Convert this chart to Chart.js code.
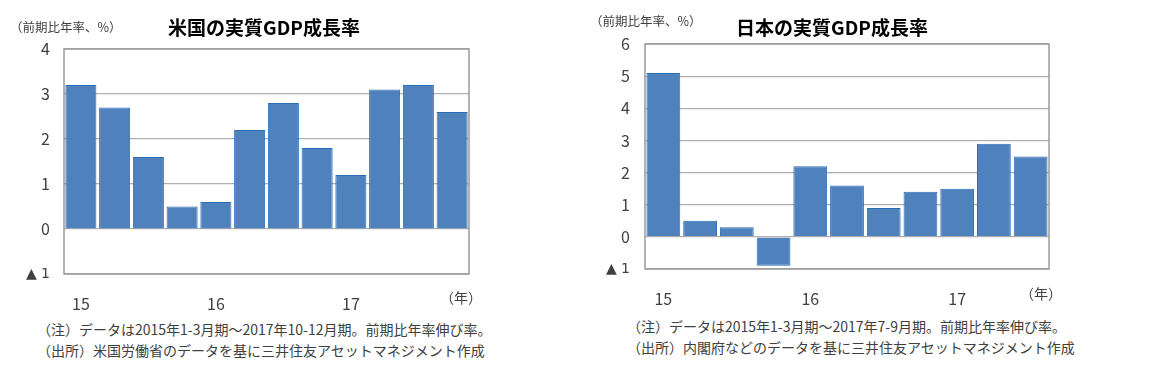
<!DOCTYPE html>
<html>
<head>
<meta charset="utf-8">
<script src="https://cdn.jsdelivr.net/npm/chart.js@4/dist/chart.umd.min.js"></script>
<style>
  body { margin: 0; background: #fff; font-family: "Noto Sans CJK JP", sans-serif; }
  #wrap { position: relative; width: 1161px; height: 372px; overflow: hidden; }
  canvas { position: absolute; top: 0; }
  .t { position: absolute; white-space: nowrap; color: #404040; }
  .title { font-weight: bold; font-size: 19px; color: #000; transform: translateX(-50%); }
  .unit { font-size: 12.5px; }
  .nen { font-size: 14px; }
  .note { font-size: 14px; line-height: 21px; }
</style>
</head>
<body>
<div id="wrap">
  <canvas id="us" width="580" height="310" style="left:0"></canvas>
  <canvas id="jp" width="581" height="310" style="left:580px"></canvas>

  <div class="t unit" style="left:10px; top:17px">（前期比年率、%）</div>
  <div class="t title" style="left:264px; top:13px">米国の実質GDP成長率</div>
  <div class="t nen" style="left:440px; top:287px">（年）</div>
  <div class="t note" style="left:37px; top:319px">（注）データは2015年1-3月期～2017年10-12月期。前期比年率伸び率。<br>（出所）米国労働省のデータを基に三井住友アセットマネジメント作成</div>

  <div class="t unit" style="left:590px; top:11px">（前期比年率、%）</div>
  <div class="t title" style="left:832px; top:13px">日本の実質GDP成長率</div>
  <div class="t nen" style="left:1020px; top:283px">（年）</div>
  <div class="t note" style="left:627px; top:316px">（注）データは2015年1-3月期～2017年7-9月期。前期比年率伸び率。<br>（出所）内閣府などのデータを基に三井住友アセットマネジメント作成</div>
</div>
<script>
// 四半期ごと、15年1-3月期から
const usLabels = ['15', '', '', '', '16', '', '', '', '17', '', '', ''];
const usGrowth = [3.2, 2.7, 1.6, 0.5, 0.6, 2.2, 2.8, 1.8, 1.2, 3.1, 3.2, 2.6];

const jpLabels = ['15', '', '', '', '16', '', '', '', '17', '', ''];
const jpGrowth = [5.1, 0.5, 0.3, -0.9, 2.2, 1.6, 0.9, 1.4, 1.5, 2.9, 2.5];

const usRange = [-1, 4];
const jpRange = [-1, 6];

// plot frame
const frame = {
    id: 'frame',
    afterDraw(chart) {
        const a = chart.chartArea;
        const ctx = chart.ctx;
        ctx.save();
        ctx.strokeStyle = '#9a9a9a';
        ctx.lineWidth = 1.5;
        ctx.strokeRect(a.left, a.top, a.right - a.left, a.bottom - a.top);
        ctx.restore();
    }
};

function makeChart(id, labels, values, range, pad, yWidth, yPad, xHeight) {
    return new Chart(document.getElementById(id), {
        type: 'bar',
        data: {
            labels: labels,
            datasets: [{
                data: values,
                backgroundColor: '#4f81bd',
                borderColor: '#2a6cb5',
                borderWidth: 1,
                barPercentage: 0.92,
                categoryPercentage: 1
            }]
        },
        options: {
            responsive: false,
            animation: false,
            devicePixelRatio: 1,
            layout: { padding: pad },
            plugins: {
                legend: { display: false },
                tooltip: { enabled: false }
            },
            scales: {
                x: {
                    grid: { display: false },
                    border: { display: false },
                    ticks: {
                        autoSkip: false,
                        maxRotation: 0,
                        padding: 12,
                        color: '#404040',
                        font: { family: 'Noto Sans CJK JP', size: 16 }
                    },
                    afterFit(s) { s.height = xHeight; }
                },
                y: {
                    min: range[0],
                    max: range[1],
                    grid: { color: '#b0b0b0', lineWidth: 1.2, drawTicks: false },
                    border: { display: false },
                    ticks: {
                        stepSize: 1,
                        padding: yPad,
                        color: '#404040',
                        // ▲ marks negatives; DejaVu gives a narrower triangle
                        font: c => (c.tick && c.tick.value < 0)
                            ? { family: 'DejaVu Sans', size: 14 }
                            : { family: 'Noto Sans CJK JP', size: 16 },
                        callback: v => v < 0 ? '▲ ' + Math.abs(v) : String(v)
                    },
                    afterFit(s) { s.width = yWidth; }
                }
            }
        },
        plugins: [frame]
    });
}

makeChart('us', usLabels, usGrowth, usRange, { top: 49, right: 111, bottom: 0, left: 0 }, 64, 14, 36);
makeChart('jp', jpLabels, jpGrowth, jpRange, { top: 44, right: 112, bottom: 0, left: 0 }, 65, 15, 41);
</script>
</body>
</html>
